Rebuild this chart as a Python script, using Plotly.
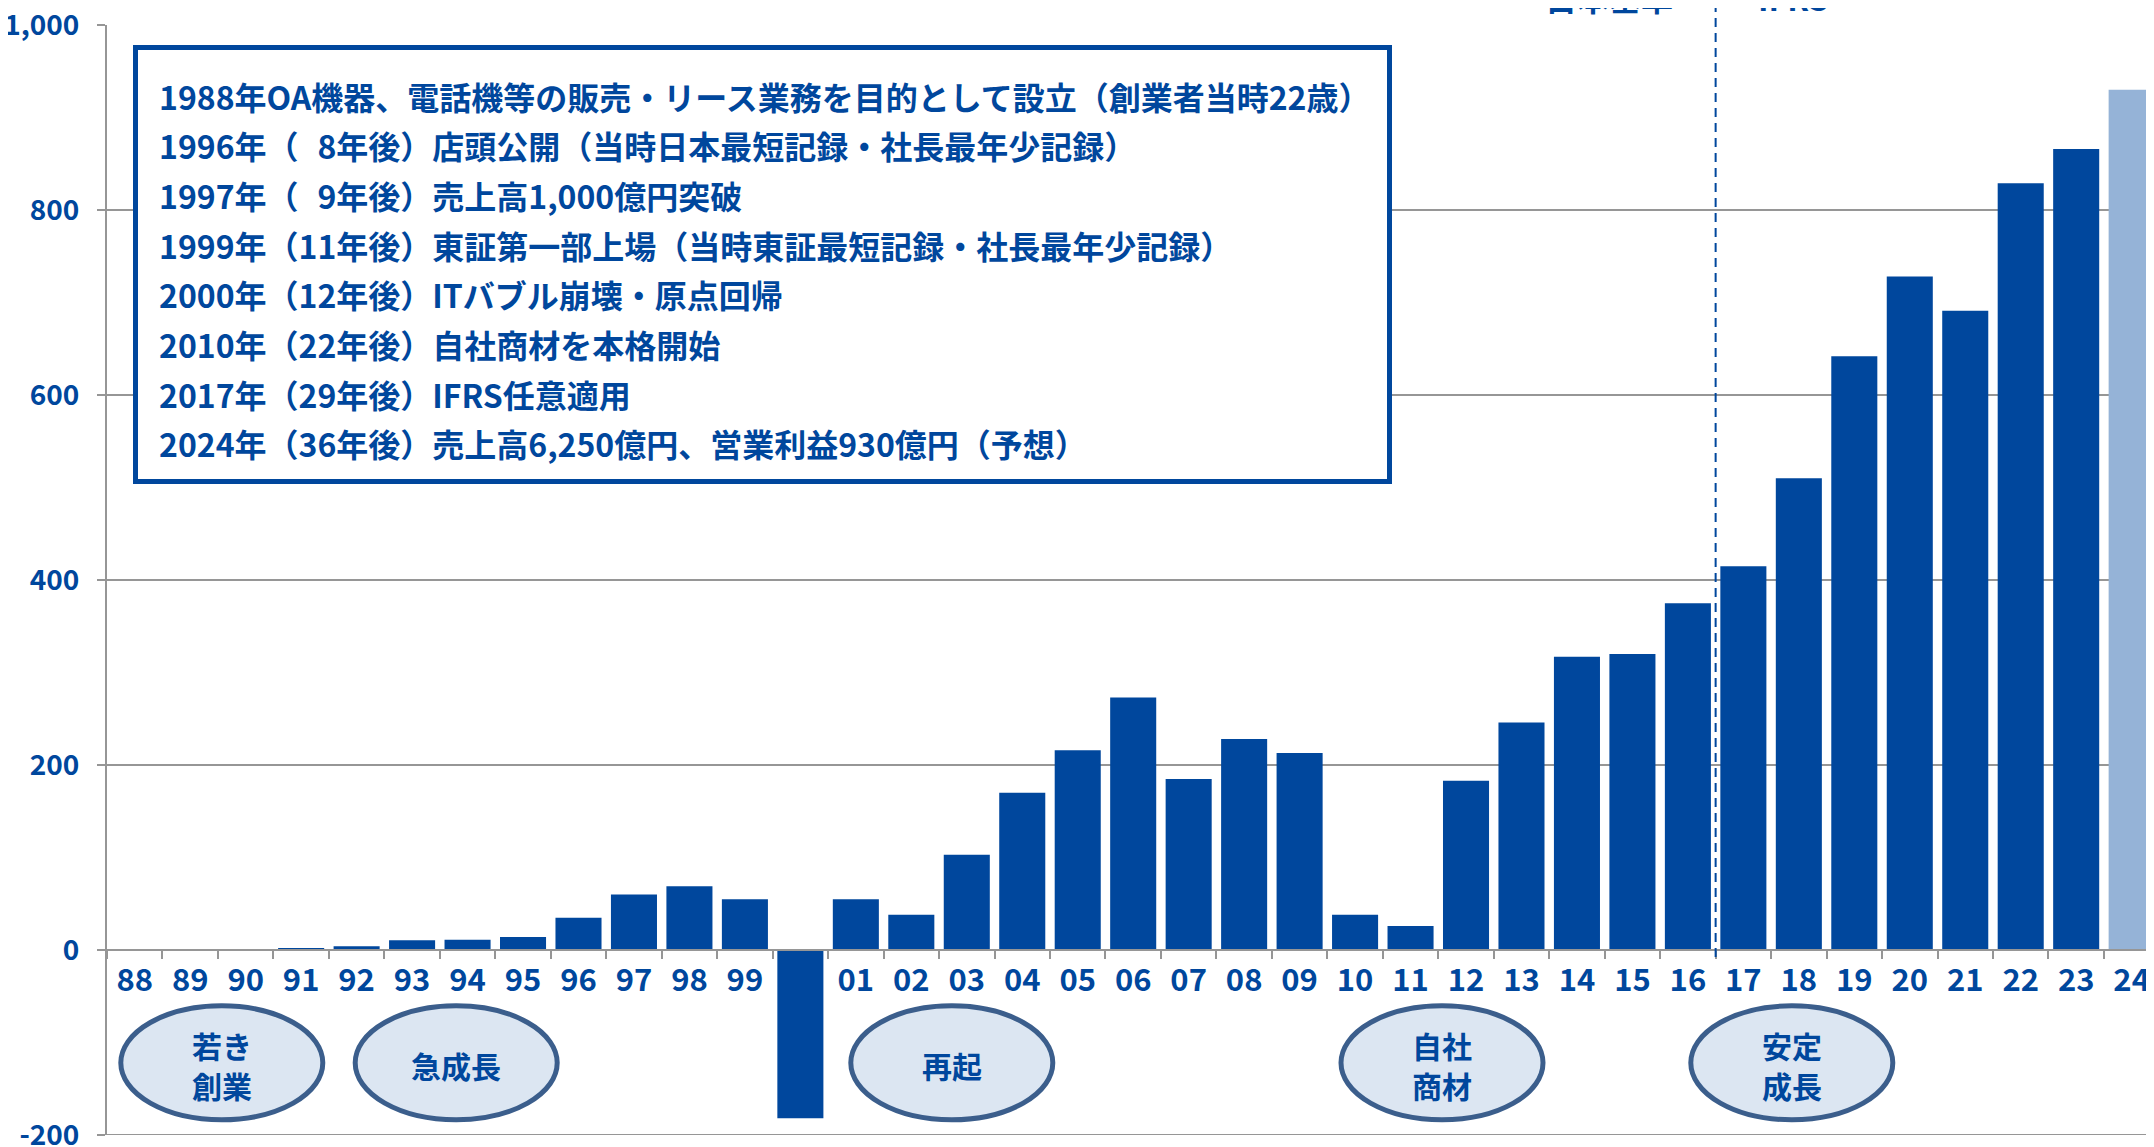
import plotly.graph_objects as go

# ---------------- data ----------------
years = ["88", "89", "90", "91", "92", "93", "94", "95", "96", "97", "98", "99",
         "00", "01", "02", "03", "04", "05", "06", "07", "08", "09", "10", "11",
         "12", "13", "14", "15", "16", "17", "18", "19", "20", "21", "22", "23", "24"]
year_labels = ["88", "89", "90", "91", "92", "93", "94", "95", "96", "97", "98", "99",
               "", "01", "02", "03", "04", "05", "06", "07", "08", "09", "10", "11",
               "12", "13", "14", "15", "16", "17", "18", "19", "20", "21", "22", "23", "24"]
operating_profit = [0, 0, 0.5, 1.5, 4, 10.5, 11, 14, 35, 60, 69, 55,
                    -182, 55, 38, 103, 170, 216, 273, 185, 228, 213, 38, 26,
                    183, 246, 317, 320, 375, 415, 510, 642, 728, 691, 829, 866, 930]
is_forecast = [False] * 36 + [True]

y_tick_vals = [-200, 0, 200, 400, 600, 800, 1000]
y_tick_text = ["-200", "0", "200", "400", "600", "800", "1,000"]

milestones = [
    "1988年OA機器、電話機等の販売・リース業務を目的として設立（創業者当時22歳）",
    "1996年（\u20078年後）店頭公開（当時日本最短記録・社長最年少記録）",
    "1997年（\u20079年後）売上高1,000億円突破",
    "1999年（11年後）東証第一部上場（当時東証最短記録・社長最年少記録）",
    "2000年（12年後）ITバブル崩壊・原点回帰",
    "2010年（22年後）自社商材を本格開始",
    "2017年（29年後）IFRS任意適用",
    "2024年（36年後）売上高6,250億円、営業利益930億円（予想）",
]
phase_labels = [["若き", "創業"], ["急成長"], ["再起"], ["自社", "商材"], ["安定", "成長"]]
standard_labels = ["日本基準←", "→IFRS"]
ifrs_boundary = 28.5  # between 16 and 17

# ---------------- style / geometry ----------------
OFF = 8                       # page body margin
W, H = 2154, 1147
PL, PT, PB = 99, 17, 20        # figure margins
PLOT_W = W - PL
PLOT_H = H - PT - PB
CAT_W = 55.47
DARK = "#00479D"
LIGHT = "#95B3D7"
GRID = "#969696"
FONT = "Noto Sans CJK JP"


def fx(sx):
    """screen x -> paper x"""
    return (sx - OFF - PL) / PLOT_W


def fy(sy):
    """screen y -> paper y"""
    return (H - PB - (sy - OFF)) / PLOT_H


bar_colors = [LIGHT if f else DARK for f in is_forecast]

fig = go.Figure()
fig.add_trace(go.Bar(
    x=years, y=operating_profit,
    marker=dict(color=bar_colors, line=dict(width=0)),
    hoverinfo="x+y",
))

fig.update_layout(
    template="none",
    width=W, height=H,
    margin=dict(l=PL, r=0, t=PT, b=PB, pad=0),
    paper_bgcolor="white", plot_bgcolor="white",
    bargap=0.17,
    showlegend=False,
    font=dict(family=FONT, color=DARK),
)

fig.update_xaxes(
    type="category",
    categoryorder="array", categoryarray=years,
    range=[-0.5, -0.5 + PLOT_W / CAT_W],
    tickmode="array", tickvals=years, ticktext=year_labels,
    tickson="boundaries",
    ticks="outside", ticklen=8, tickwidth=2, tickcolor=GRID,
    showline=True, linecolor=GRID, linewidth=2,
    showgrid=False, zeroline=False,
    anchor="free", position=200 / 1200,
    tickfont=dict(family=FONT, size=31, color=DARK, weight="bold"),
    ticklabelstandoff=3,
    ticklabeloverflow="allow",
    automargin=False,
)
fig.update_yaxes(
    range=[-200, 1000],
    tickmode="array", tickvals=y_tick_vals, ticktext=y_tick_text,
    ticks="outside", ticklen=8, tickwidth=2, tickcolor=GRID,
    showline=True, linecolor=GRID, linewidth=2,
    showgrid=True, gridcolor=GRID, gridwidth=2,
    zeroline=False,
    tickfont=dict(family=FONT, size=28, color=DARK, weight="bold"),
    ticklabelstandoff=12,
    ticklabeloverflow="allow",
    automargin=False,
)

shapes = []
# bottom boundary line at -200 (grid edge)
shapes.append(dict(type="line", xref="paper", yref="y", x0=0, x1=1, y0=-200, y1=-200,
                   line=dict(color=GRID, width=2), layer="below"))

# milestone box
bx0, bx1, by0, by1, bw = 133, 1392, 45, 484, 5
shapes.append(dict(type="rect", xref="paper", yref="paper",
                   x0=fx(bx0 + bw / 2), x1=fx(bx1 - bw / 2),
                   y0=fy(by1 - bw / 2), y1=fy(by0 + bw / 2),
                   fillcolor="white", line=dict(color=DARK, width=bw), layer="above"))

# IFRS boundary dashed line
shapes.append(dict(type="line", xref="x", yref="paper",
                   x0=ifrs_boundary, x1=ifrs_boundary,
                   y0=fy(957), y1=fy(-5),
                   line=dict(color=DARK, width=2, dash="9px,6px"), layer="above"))

# phase ellipses
ell_x = [118.3, 352.7, 848.3, 1338.5, 1688.3]
ell_w = 207
ey0, ey1, ew = 1003.3, 1122.3, 5
for ex in ell_x:
    shapes.append(dict(type="circle", xref="paper", yref="paper",
                       x0=fx(ex + ew / 2), x1=fx(ex + ell_w - ew / 2),
                       y0=fy(ey1 - ew / 2), y1=fy(ey0 + ew / 2),
                       fillcolor="#DCE6F2", line=dict(color="#3B5E8C", width=ew),
                       layer="above"))
fig.update_layout(shapes=shapes)

annotations = []
line_y0, line_dy = 95.5, 49.7
for i, t in enumerate(milestones):
    annotations.append(dict(text=t, xref="paper", yref="paper",
                            x=fx(157), y=fy(line_y0 + i * line_dy),
                            xanchor="left", yanchor="middle", showarrow=False,
                            font=dict(family=FONT, size=32, color=DARK, weight="bold")))
ell_cy, ell_line_dy = 1065, 40.5
for lines, ex in zip(phase_labels, ell_x):
    n = len(lines)
    for j, t in enumerate(lines):
        cy = ell_cy + (j - (n - 1) / 2) * ell_line_dy
        annotations.append(dict(text=t, xref="paper", yref="paper",
                                x=fx(ex + ell_w / 2), y=fy(cy),
                                xanchor="center", yanchor="middle", showarrow=False,
                                font=dict(family=FONT, size=30, color=DARK, weight="bold")))
annotations.append(dict(text=standard_labels[0], xref="paper", yref="paper",
                        x=fx(1707), y=fy(-3), xanchor="right", yanchor="middle",
                        showarrow=False,
                        font=dict(family=FONT, size=32, color=DARK, weight="bold")))
annotations.append(dict(text=standard_labels[1], xref="paper", yref="paper",
                        x=fx(1724), y=fy(-3), xanchor="left", yanchor="middle",
                        showarrow=False,
                        font=dict(family=FONT, size=32, color=DARK, weight="bold")))
fig.update_layout(annotations=annotations)

fig.write_html("out.html")
